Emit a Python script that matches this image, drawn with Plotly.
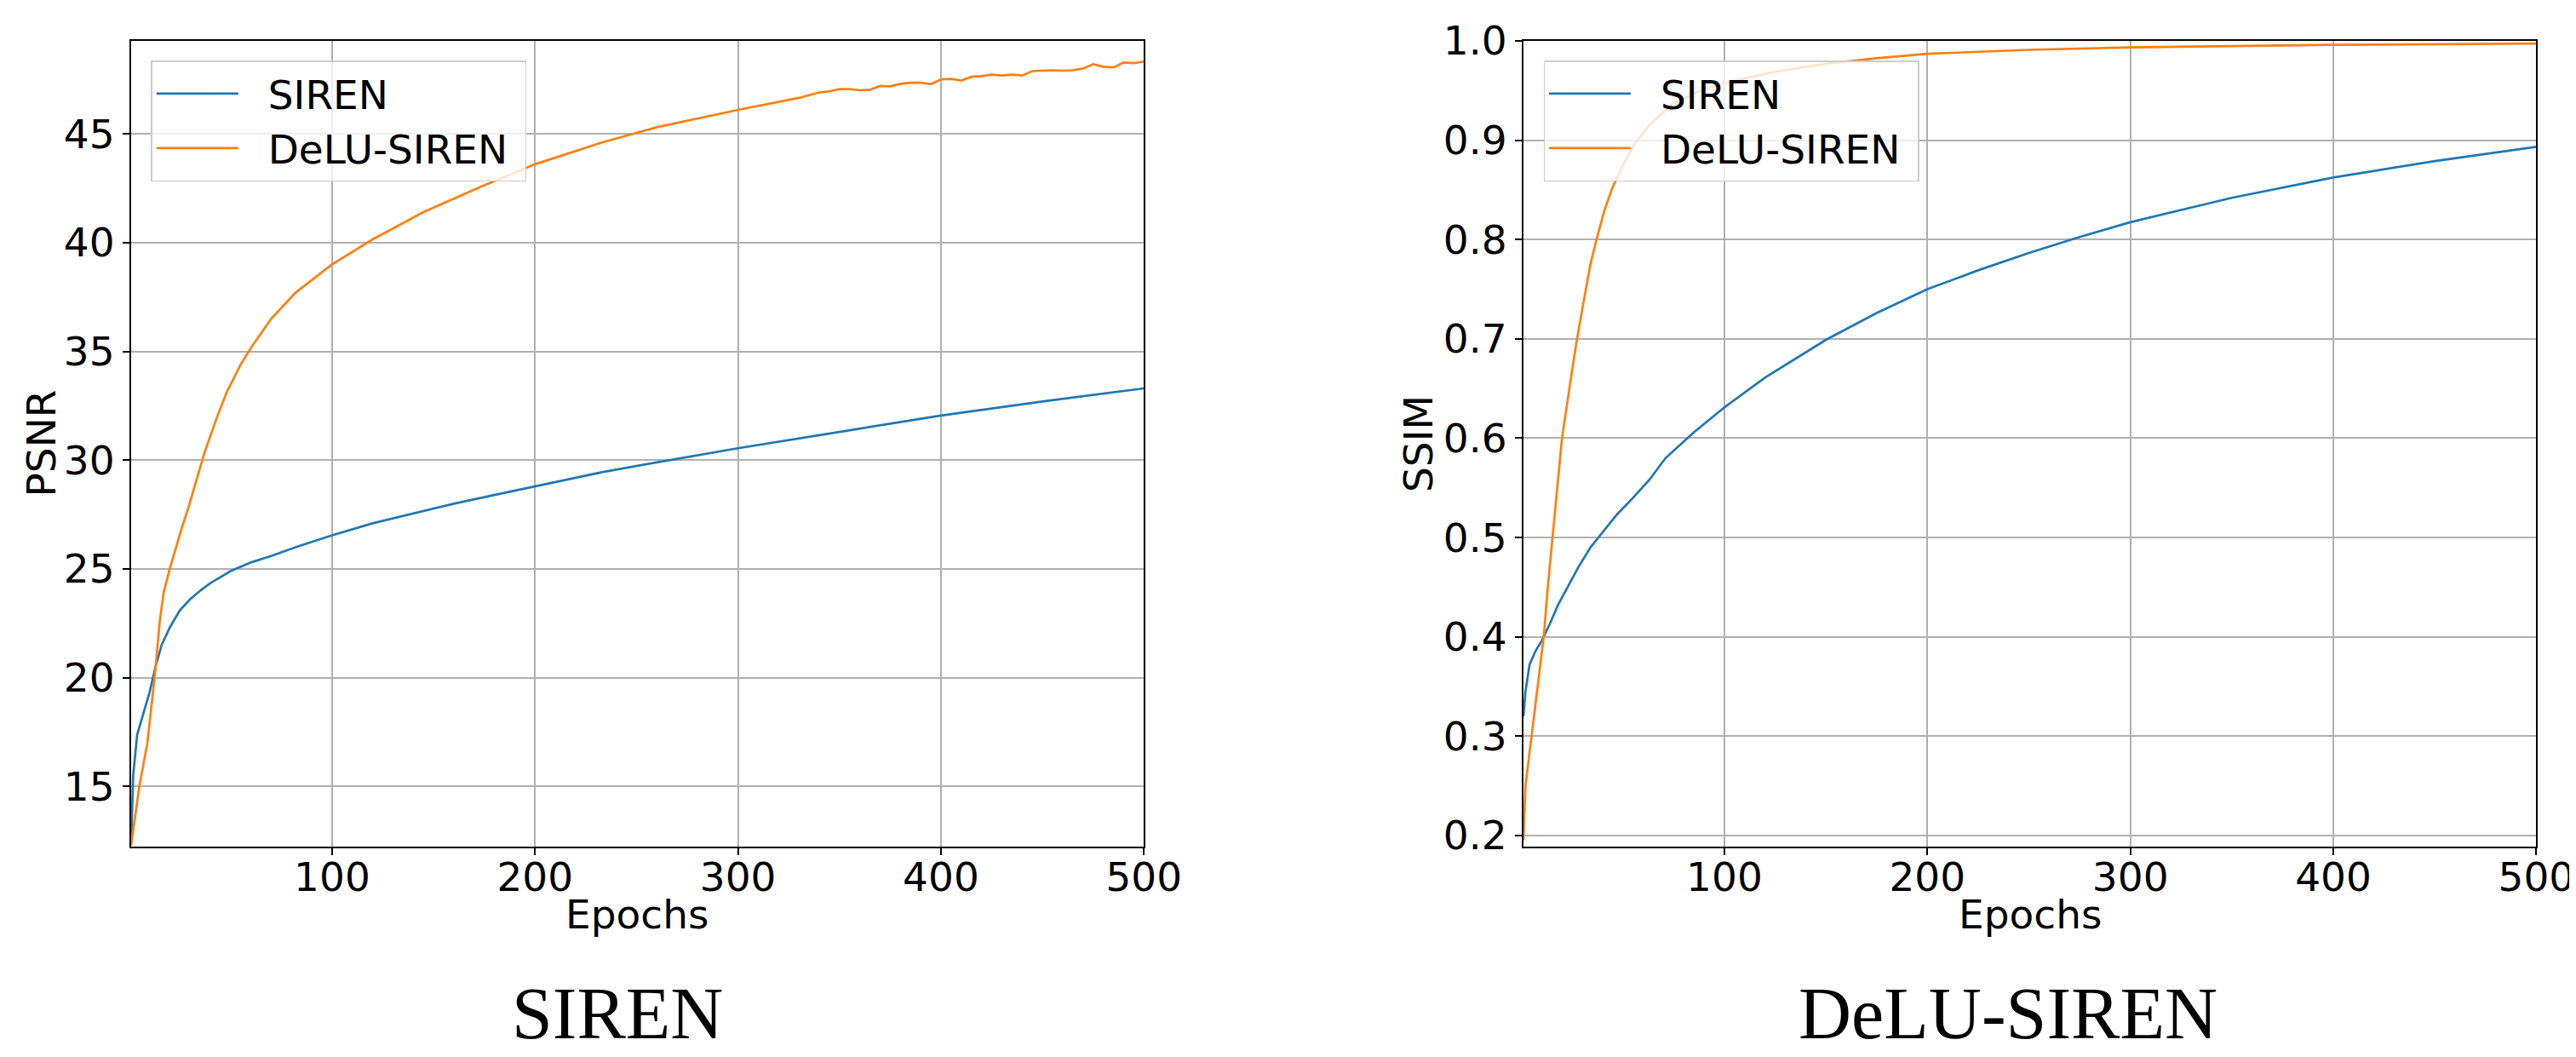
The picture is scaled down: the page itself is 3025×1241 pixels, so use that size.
import plotly.graph_objects as go

W, H = 3025, 1241

# ---------------- data ----------------
psnr_siren_epochs = [1, 2, 4, 7, 10, 13, 16, 20, 25, 30, 35, 40, 50, 60, 70, 82, 100, 120, 140, 160,
                     180, 200, 233, 260, 300, 350, 400, 450, 500]
psnr_siren = [12.4, 15.5, 17.4, 18.4, 19.3, 20.5, 21.5, 22.3, 23.1, 23.6, 24.0, 24.35, 24.9, 25.3, 25.6,
              26.0, 26.55, 27.1, 27.55, 28.0, 28.4, 28.8, 29.45, 29.9, 30.55, 31.3, 32.05, 32.7, 33.3]

psnr_delu_epochs = [1, 3, 5, 9, 11, 13, 15, 17, 20, 23, 26, 29, 33, 37, 43, 48, 55, 61, 70, 82, 100, 120,
                    145, 174, 200, 233, 260, 300, 330, 340, 345, 350, 355, 360, 365, 370, 375, 380, 385,
                    390, 395, 400, 405, 410, 415, 420, 425, 430, 435, 440, 445, 450, 455, 460, 465, 470,
                    475, 480, 485, 490, 495, 500]
psnr_delu = [12.3, 13.6, 15.0, 17.0, 18.6, 20.4, 22.5, 23.9, 25.0, 26.0, 26.9, 27.75, 29.0, 30.3, 31.9,
             33.1, 34.4, 35.3, 36.5, 37.7, 39.0, 40.15, 41.4, 42.6, 43.6, 44.6, 45.3, 46.1, 46.65, 46.9,
             46.95, 47.05, 47.05, 47.0, 47.02, 47.2, 47.18, 47.3, 47.35, 47.35, 47.28, 47.5, 47.52, 47.45,
             47.62, 47.65, 47.72, 47.68, 47.72, 47.68, 47.88, 47.9, 47.92, 47.9, 47.92, 48.0, 48.2, 48.08,
             48.05, 48.28, 48.25, 48.32]

ssim_siren_epochs = [1, 2, 4, 7, 10, 14, 18, 23, 28, 34, 41, 47, 55, 63, 71, 85, 100, 120, 150, 175,
                     200, 225, 250, 275, 300, 350, 400, 450, 500]
ssim_siren = [0.32, 0.345, 0.372, 0.386, 0.396, 0.413, 0.432, 0.451, 0.470, 0.490, 0.508, 0.523, 0.540,
              0.558, 0.580, 0.606, 0.631, 0.661, 0.699, 0.726, 0.750, 0.769, 0.7865, 0.8025, 0.8175,
              0.842, 0.8625, 0.879, 0.8934]

ssim_delu_epochs = [1, 2, 5, 8, 11, 13, 16, 18, 20, 24, 27, 30, 34, 37, 41, 45, 50, 56, 63, 74, 87, 100,
                    125, 150, 175, 200, 250, 300, 400, 500]
ssim_delu = [0.195, 0.25, 0.30, 0.348, 0.40, 0.45, 0.515, 0.56, 0.60, 0.655, 0.695, 0.73, 0.775, 0.80,
             0.83, 0.853, 0.875, 0.897, 0.915, 0.936, 0.949, 0.9575, 0.969, 0.977, 0.9825, 0.987, 0.991,
             0.9935, 0.996, 0.9973]

x_ticks = [100, 200, 300, 400, 500]
psnr_ticks = [15, 20, 25, 30, 35, 40, 45]
ssim_ticks = [0.2, 0.3, 0.4, 0.5, 0.6, 0.7, 0.8, 0.9, 1.0]
series_names = ["SIREN", "DeLU-SIREN"]
panel_captions = ["SIREN", "DeLU-SIREN"]
colors = ["#1f77b4", "#ff7f0e"]

# ---------------- figure ----------------
FONT = "DejaVu Sans"
FS = 47
LW = 2.7
PAD = "\u00a0\u00a0"  # gap between legend sample line and label
TAIL = "\u00a0"


def label(n):
    return PAD + n + TAIL


fig = go.Figure()
fig.add_trace(go.Scatter(x=psnr_siren_epochs, y=psnr_siren, mode="lines", name=label(series_names[0]),
                         line=dict(color=colors[0], width=LW), xaxis="x", yaxis="y",
                         legend="legend", legendgroup="a"))
fig.add_trace(go.Scatter(x=psnr_delu_epochs, y=psnr_delu, mode="lines", name=label(series_names[1]),
                         line=dict(color=colors[1], width=LW), xaxis="x", yaxis="y",
                         legend="legend", legendgroup="b"))
fig.add_trace(go.Scatter(x=ssim_siren_epochs, y=ssim_siren, mode="lines", name=label(series_names[0]),
                         line=dict(color=colors[0], width=LW), xaxis="x2", yaxis="y2",
                         legend="legend2", legendgroup="c"))
fig.add_trace(go.Scatter(x=ssim_delu_epochs, y=ssim_delu, mode="lines", name=label(series_names[1]),
                         line=dict(color=colors[1], width=LW), xaxis="x2", yaxis="y2",
                         legend="legend2", legendgroup="d"))

ydom = [1 - 986 / H, 1 - 40 / H]
common_axis = dict(showgrid=True, gridcolor="#b0b0b0", gridwidth=1.5, showline=True, linecolor="black",
                   linewidth=2, mirror=True, ticks="outside", ticklen=8, tickwidth=2,
                   tickcolor="black", tickfont=dict(size=FS, family=FONT, color="black"),
                   zeroline=False, automargin=False)

legend_common = dict(xanchor="left", yanchor="top", bgcolor="rgba(255,255,255,0.8)",
                     bordercolor="#cccccc", borderwidth=1.5,
                     font=dict(size=FS, family=FONT, color="black"),
                     itemwidth=96, traceorder="grouped", tracegroupgap=0)

fig.update_layout(
    width=W, height=H,
    margin=dict(l=0, r=0, t=0, b=0),
    paper_bgcolor="white", plot_bgcolor="white",
    xaxis=dict(domain=[146 / W, 1335.3 / W], range=[1, 500], anchor="y", tickvals=x_ticks,
               ticklabelstandoff=-14, **common_axis),
    yaxis=dict(domain=ydom, range=[12.24, 49.27], anchor="x", tickvals=psnr_ticks, **common_axis),
    xaxis2=dict(domain=[1781 / W, 2970.4 / W], range=[1, 500], anchor="y2", tickvals=x_ticks,
                ticklabelstandoff=-14, **common_axis),
    yaxis2=dict(domain=ydom, range=[0.1888, 1.0], anchor="x2", tickvals=ssim_ticks, tickformat=".1f",
                **common_axis),
    legend=dict(x=169.3 / W, y=1 - 63.3 / H, **legend_common),
    legend2=dict(x=1804.5 / W, y=1 - 63.3 / H, **legend_common),
    showlegend=True,
)

annots = [
    dict(text="Epochs", x=740 / W, y=1 - 1065 / H),
    dict(text="Epochs", x=2376 / W, y=1 - 1065 / H),
    dict(text="PSNR", x=39.5 / W, y=1 - 513 / H, textangle=-90),
    dict(text="SSIM", x=1657 / W, y=1 - 513 / H, textangle=-90),
]
for a in annots:
    fig.add_annotation(xref="paper", yref="paper", showarrow=False, xanchor="center", yanchor="middle",
                       font=dict(size=FS, family=FONT, color="black"), **a)

CAP_FS = 86
CAP_BASE = 1212
for txt, cx in zip(panel_captions, [717, 2350]):
    fig.add_annotation(text=txt, xref="paper", yref="paper", x=cx / W,
                       y=1 - (CAP_BASE + 0.216 * CAP_FS) / H, showarrow=False,
                       xanchor="center", yanchor="bottom", borderpad=0,
                       font=dict(size=CAP_FS, family="Liberation Serif", color="black"))

fig.write_html("out.html")
